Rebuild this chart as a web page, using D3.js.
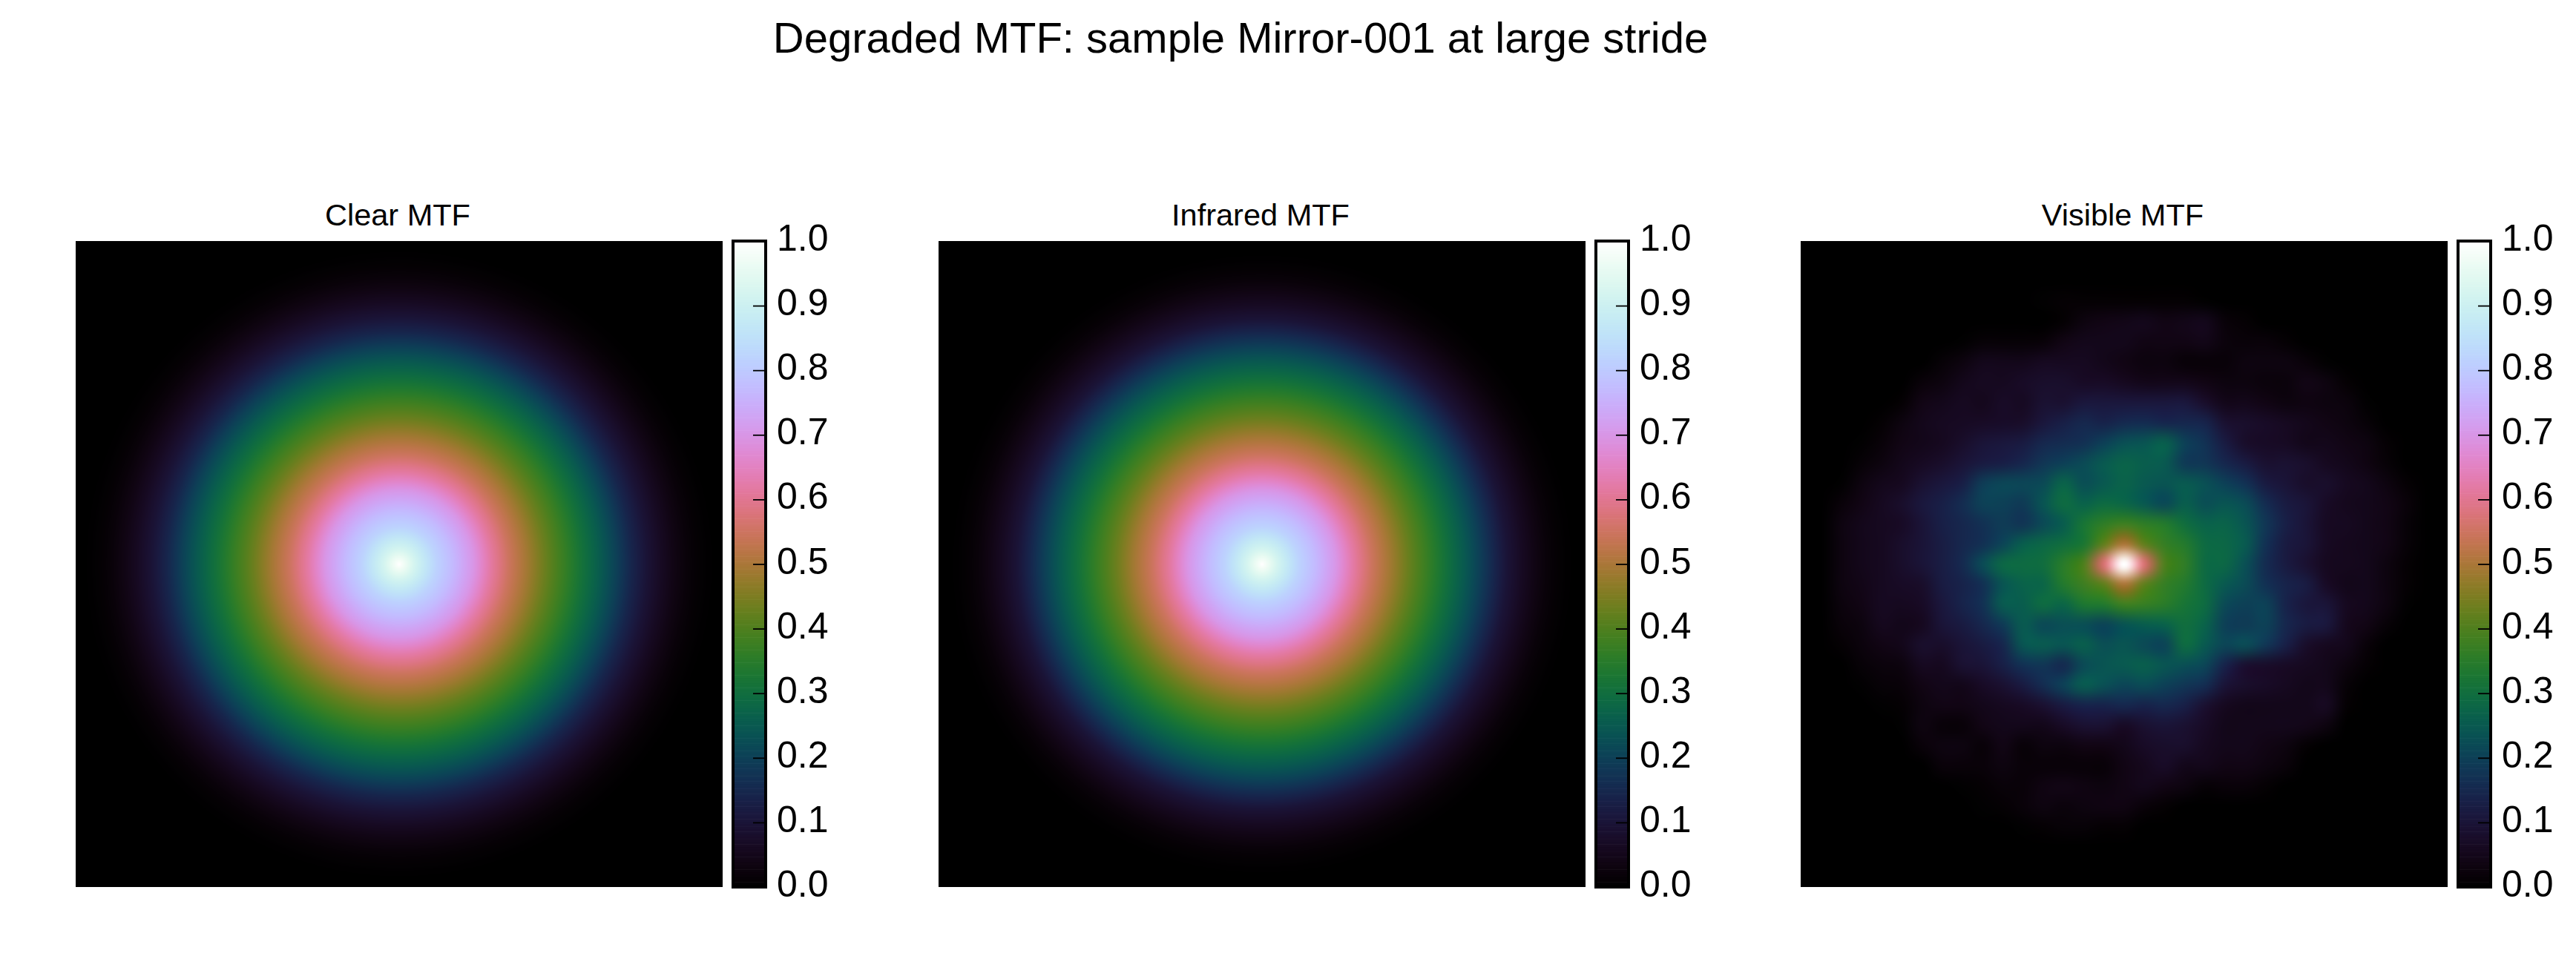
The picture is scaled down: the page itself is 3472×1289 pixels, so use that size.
<!DOCTYPE html>
<html>
<head>
<meta charset="utf-8">
<script src="https://cdn.jsdelivr.net/npm/d3@7"></script>
<style>
  html, body { margin: 0; padding: 0; background: #fff; overflow: hidden; }
  text { font-family: "Liberation Sans", Arial, sans-serif; fill: #000; }
</style>
</head>
<body>
<svg id="chart" width="3472" height="1289"></svg>
<script>
const figureTitle = 'Degraded MTF: sample Mirror-001 at large stride';
const panelTitles = ['Clear MTF', 'Infrared MTF', 'Visible MTF'];
const colorbarTicks = [0, 0.1, 0.2, 0.3, 0.4, 0.5, 0.6, 0.7, 0.8, 0.9, 1];

// radial profiles read along the horizontal through the centre (radius in image px, MTF)
const clearRadius = [0, 20, 50, 72, 100, 123, 147, 173, 197, 223, 247, 273, 293, 313, 333, 353, 370, 387, 400, 417, 433];
const clearValues = [1, 0.92, 0.82, 0.77, 0.7, 0.62, 0.55, 0.49, 0.43, 0.37, 0.31, 0.25, 0.2, 0.145, 0.1, 0.065, 0.04, 0.02, 0.01, 0.002, 0];
const infraredRadius = [0, 20, 50, 72, 100, 123, 147, 173, 197, 223, 247, 273, 293, 313, 330, 350, 367, 383, 396, 412, 428];
const infraredValues = [1, 0.92, 0.82, 0.77, 0.7, 0.62, 0.55, 0.49, 0.43, 0.37, 0.31, 0.25, 0.2, 0.145, 0.1, 0.065, 0.04, 0.02, 0.01, 0.002, 0];

// visible band, samples across the image (33 x 33)
const visibleGrid = [
  [0,0,0,0,0,0,0,0,0,0,0,0,0,0,0,0,0,0,0,0,0,0,0,0,0,0,0,0,0,0,0,0,0],
  [0,0,0,0,0,0,0,0,0,0,0,0,0,0,0,0,0,0,0,0,0,0,0,0,0,0,0,0,0,0,0,0,0],
  [0,0,0,0,0,0,0,0,0,0,0,0,0,0,0,0,0,0,0,0,0,0,0,0,0,0,0,0,0,0,0,0,0],
  [0,0,0,0,0,0,0,0,0,0,0,0,.005,.01,.01,.01,.01,.01,.01,.01,.005,0,0,0,0,0,0,0,0,0,0,0,0],
  [0,0,0,0,0,0,0,0,0,0,0,0,0,.01,.03,.04,.045,.05,.04,.045,.05,.02,.01,0,0,0,0,0,0,0,0,0,0],
  [0,0,0,0,0,0,0,0,.005,.015,.015,.015,.02,.04,.05,.05,.05,.04,.04,.04,.045,.025,.02,.02,.01,0,0,0,0,0,0,0,0],
  [0,0,0,0,0,0,0,.015,.03,.05,.05,.05,.06,.06,.06,.05,.04,.03,.03,.02,.02,.02,.03,.03,.03,.02,.005,0,0,0,0,0,0],
  [0,0,0,0,0,0,.02,.03,.05,.06,.06,.07,.08,.08,.07,.07,.06,.05,.05,.05,.04,.03,.03,.025,.025,.04,.03,.01,0,0,0,0,0],
  [0,0,0,0,0,.01,.04,.05,.06,.055,.07,.065,.09,.09,.11,.11,.11,.11,.11,.11,.08,.05,.05,.04,.03,.035,.03,.025,.005,0,0,0,0],
  [0,0,0,0,.01,.03,.05,.06,.065,.07,.075,.08,.11,.13,.15,.14,.155,.16,.15,.15,.14,.09,.08,.07,.06,.05,.04,.03,.015,0,0,0,0],
  [0,0,0,.005,.02,.04,.05,.06,.08,.10,.11,.12,.15,.16,.17,.20,.23,.24,.26,.20,.17,.12,.08,.07,.065,.05,.05,.04,.03,.01,0,0,0],
  [0,0,0,.015,.03,.05,.065,.08,.10,.12,.13,.15,.18,.20,.22,.25,.27,.26,.25,.19,.18,.15,.12,.09,.09,.08,.06,.05,.035,.015,0,0,0],
  [0,0,.005,.03,.05,.06,.09,.11,.13,.19,.21,.21,.22,.27,.23,.25,.27,.25,.24,.25,.23,.20,.17,.12,.10,.08,.08,.06,.05,.03,.01,0,0],
  [0,0,.02,.04,.06,.08,.11,.13,.16,.20,.20,.19,.24,.29,.27,.29,.28,.25,.22,.26,.23,.24,.22,.16,.12,.10,.07,.055,.05,.04,.02,0,0],
  [0,0,.03,.05,.06,.07,.10,.13,.15,.17,.19,.18,.22,.26,.32,.36,.38,.36,.34,.30,.27,.27,.24,.18,.13,.10,.065,.06,.05,.04,.015,0,0],
  [0,0,.03,.05,.06,.08,.10,.125,.15,.17,.21,.26,.28,.30,.33,.42,.50,.42,.37,.34,.29,.28,.25,.17,.12,.10,.065,.055,.05,.04,.015,0,0],
  [0,0,.03,.05,.06,.08,.10,.125,.155,.22,.28,.29,.30,.35,.40,.57,1,.57,.40,.36,.29,.28,.23,.16,.12,.09,.06,.055,.05,.03,.01,0,0],
  [0,0,.03,.045,.06,.07,.08,.12,.14,.17,.24,.27,.28,.34,.38,.42,.50,.42,.37,.34,.29,.25,.22,.17,.14,.12,.07,.05,.05,.03,.01,0,0],
  [0,0,.025,.04,.06,.06,.07,.11,.14,.17,.25,.26,.29,.28,.33,.34,.38,.37,.35,.32,.29,.22,.20,.20,.14,.11,.10,.06,.05,.03,.005,0,0],
  [0,0,.02,.03,.055,.05,.06,.10,.12,.15,.19,.25,.22,.23,.23,.21,.24,.26,.27,.30,.27,.20,.19,.20,.15,.12,.11,.055,.04,.015,0,0,0],
  [0,0,.01,.025,.04,.05,.08,.08,.10,.12,.15,.24,.25,.24,.26,.23,.24,.22,.21,.29,.25,.21,.22,.18,.13,.08,.06,.05,.02,0,0,0,0],
  [0,0,0,.015,.025,.03,.06,.06,.09,.10,.13,.17,.18,.16,.22,.24,.25,.26,.24,.23,.21,.14,.09,.08,.07,.06,.05,.03,.01,0,0,0,0],
  [0,0,0,.005,.015,.02,.04,.05,.05,.07,.09,.12,.16,.20,.25,.23,.21,.22,.20,.18,.16,.10,.08,.07,.06,.05,.05,.015,0,0,0,0,0],
  [0,0,0,0,.005,.01,.03,.04,.04,.05,.06,.07,.09,.12,.14,.14,.15,.14,.15,.13,.09,.06,.05,.05,.05,.05,.06,.01,0,0,0,0,0],
  [0,0,0,0,0,.005,.03,.02,.02,.04,.05,.05,.05,.07,.09,.09,.07,.09,.10,.09,.07,.05,.05,.05,.05,.045,.03,0,0,0,0,0,0],
  [0,0,0,0,0,0,.02,.03,.03,.02,.04,.02,.03,.03,.04,.04,.05,.07,.08,.08,.06,.05,.05,.04,.03,.01,0,0,0,0,0,0,0],
  [0,0,0,0,0,0,0,.02,.02,.02,.03,.02,.02,.02,.02,.02,.04,.055,.07,.05,.05,.04,.04,.03,.02,0,0,0,0,0,0,0,0],
  [0,0,0,0,0,0,0,0,.005,.01,.02,.02,.035,.04,.035,.03,.04,.05,.04,.03,.015,.02,.02,.01,0,0,0,0,0,0,0,0,0],
  [0,0,0,0,0,0,0,0,0,.005,.01,.02,.03,.025,.03,.035,.035,.02,.01,0,0,0,0,0,0,0,0,0,0,0,0,0,0],
  [0,0,0,0,0,0,0,0,0,0,0,.005,.01,.015,.015,.01,.01,0,0,0,0,0,0,0,0,0,0,0,0,0,0,0,0],
  [0,0,0,0,0,0,0,0,0,0,0,0,0,0,0,0,0,0,0,0,0,0,0,0,0,0,0,0,0,0,0,0,0],
  [0,0,0,0,0,0,0,0,0,0,0,0,0,0,0,0,0,0,0,0,0,0,0,0,0,0,0,0,0,0,0,0,0],
  [0,0,0,0,0,0,0,0,0,0,0,0,0,0,0,0,0,0,0,0,0,0,0,0,0,0,0,0,0,0,0,0,0],
];

const imageSize = 872;
const panelLeft = [102, 1265, 2427];
const imageTop = 325;
const barGap = 14;
const barWidth = 44;

const svg = d3.select('#chart');
const color = d3.scaleSequential(
  d3.interpolateCubehelixLong(d3.cubehelix(300, 0.65, 0), d3.cubehelix(-240, 0.65, 1)),
).domain([0, 1]).clamp(true);

function renderField(sample) {
  const canvas = document.createElement('canvas');
  canvas.width = imageSize;
  canvas.height = imageSize;
  const ctx = canvas.getContext('2d');
  const img = ctx.createImageData(imageSize, imageSize);
  let k = 0;
  for (let py = 0; py < imageSize; py++) {
    for (let px = 0; px < imageSize; px++) {
      const c = sample(px + 0.5, py + 0.5);
      img.data[k++] = c[0];
      img.data[k++] = c[1];
      img.data[k++] = c[2];
      img.data[k++] = 255;
    }
  }
  ctx.putImageData(img, 0, 0);
  return canvas.toDataURL('image/png');
}

function radialSampler(radius, values) {
  const lut = d3.range(1025).map((i) => d3.rgb(color(i / 1024)));
  const profile = d3.scaleLinear().domain(radius).range(values).clamp(true);
  const c = imageSize / 2;
  return (px, py) => {
    const v = lut[Math.round(profile(Math.hypot(px - c, py - c)) * 1024)];
    return [v.r, v.g, v.b];
  };
}

function catmull(a, b, c, d, t) {
  return 0.5 * (2 * b + (c - a) * t + (2 * a - 5 * b + 4 * c - d) * t * t + (3 * b - a - 3 * c + d) * t * t * t);
}

function bicubic(grid, gx, gy) {
  const rows = grid.length;
  const cols = grid[0].length;
  const x0 = Math.floor(gx);
  const y0 = Math.floor(gy);
  const at = (r, q) => grid[Math.max(0, Math.min(rows - 1, r))][Math.max(0, Math.min(cols - 1, q))];
  const col = [-1, 0, 1, 2].map((dy) => catmull(
    at(y0 + dy, x0 - 1), at(y0 + dy, x0), at(y0 + dy, x0 + 1), at(y0 + dy, x0 + 2), gx - x0));
  return catmull(col[0], col[1], col[2], col[3], gy - y0);
}

// the cells are coloured first and the colours smoothed afterwards
function gridSampler(grid) {
  const rgb = grid.map((row) => row.map((v) => d3.rgb(color(v))));
  const channels = ['r', 'g', 'b'].map((ch) => rgb.map((row) => row.map((c) => c[ch])));
  const gridScale = d3.scaleLinear().domain([0, imageSize]).range([0, grid.length - 1]);
  return (px, py) => channels.map((ch) => bicubic(ch, gridScale(px), gridScale(py)));
}

const samplers = [
  radialSampler(clearRadius, clearValues),
  radialSampler(infraredRadius, infraredValues),
  gridSampler(visibleGrid),
];

svg.append('text')
  .attr('class', 'figure-title')
  .attr('x', 1672)
  .attr('y', 71)
  .attr('text-anchor', 'middle')
  .attr('font-size', 58)
  .text(figureTitle);

panelTitles.forEach((title, i) => {
  const left = panelLeft[i];
  const panel = svg.append('g').attr('class', 'panel').attr('transform', `translate(${left},${imageTop})`);

  panel.append('text')
    .attr('x', imageSize / 2 - 2)
    .attr('y', -21)
    .attr('text-anchor', 'middle')
    .attr('font-size', 41.5)
    .text(title);

  panel.append('image')
    .attr('width', imageSize)
    .attr('height', imageSize - 1)
    .attr('preserveAspectRatio', 'none')
    .attr('href', renderField(samplers[i]));

  // colorbar
  const barX = imageSize + barGap;
  const barY = d3.scaleLinear().domain([0, 1]).range([imageSize - 1, 0]);
  const levels = d3.range(256).map((d) => d / 256);
  const bar = panel.append('g').attr('class', 'colorbar').attr('transform', `translate(${barX},0)`);

  bar.selectAll('rect.level')
    .data(levels)
    .join('rect')
    .attr('class', 'level')
    .attr('x', 0)
    .attr('width', barWidth)
    .attr('y', (d) => barY(d + 1 / 256))
    .attr('height', barY(0) - barY(1 / 256) + 0.6)
    .attr('fill', (d) => color(d + 0.5 / 256));

  bar.append('rect')
    .attr('width', barWidth)
    .attr('height', imageSize - 1)
    .attr('fill', 'none')
    .attr('stroke', '#000')
    .attr('stroke-width', 4);

  const axis = bar.append('g')
    .attr('transform', `translate(${barWidth},0)`)
    .call(d3.axisRight(barY).tickValues(colorbarTicks).tickSize(-17).tickPadding(15).tickFormat(d3.format('.1f')));

  axis.select('.domain').remove();
  axis.selectAll('.tick line').attr('stroke', '#000').attr('stroke-width', 1.8);
  axis.selectAll('.tick text')
    .attr('font-size', 50)
    .attr('font-family', '"Liberation Sans", Arial, sans-serif')
    .attr('dy', 12.5);
});
</script>
</body>
</html>
